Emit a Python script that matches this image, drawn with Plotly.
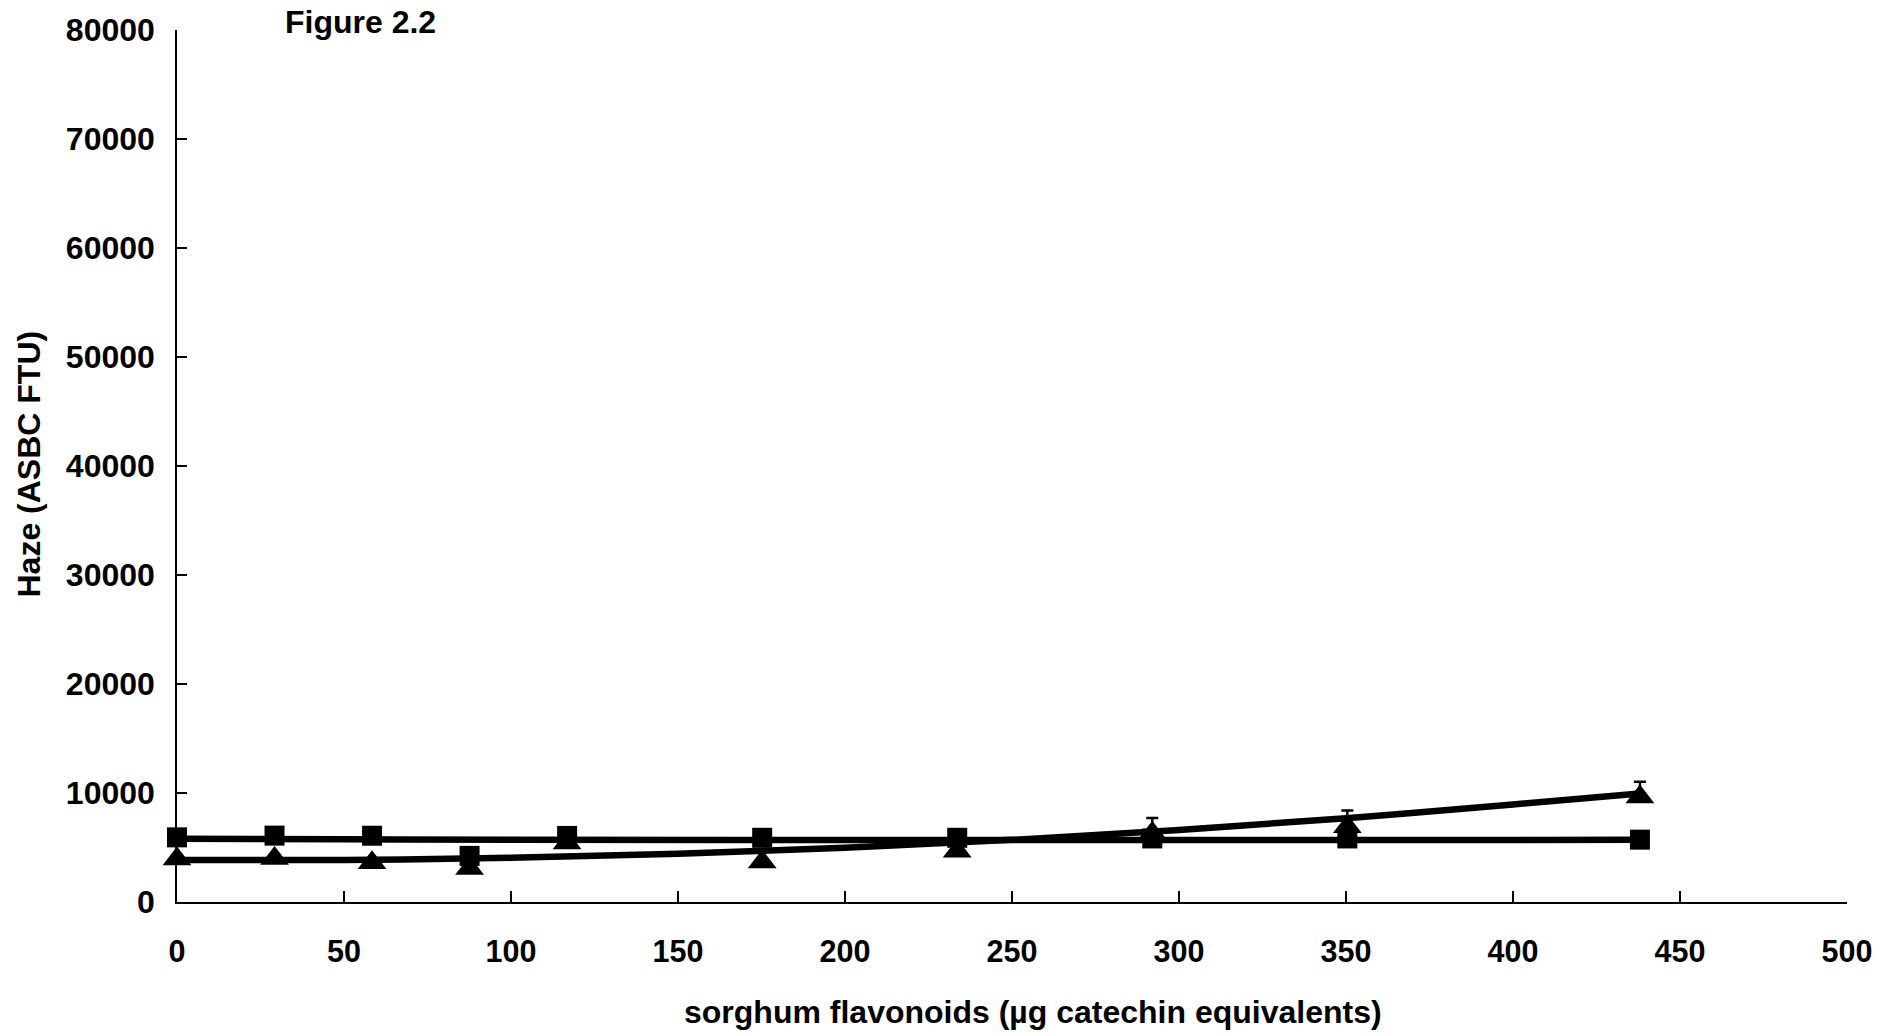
import plotly.graph_objects as go

# Sorghum flavonoids dose (µg catechin equivalents)
flavonoid_x = [0, 29.2, 58.4, 87.6, 116.8, 175.2, 233.6, 292, 350.4, 438]

# Haze values (ASBC FTU)
haze_square = [5930, 6090, 6080, 4230, 6060, 5890, 5890, 5830, 5830, 5720]
haze_triangle = [3940, 3990, 3590, 3080, 5420, 3680, 4660, 6300, 6900, 9630]
err_triangle = [0, 0, 0, 0, 0, 0, 0, 1400, 1500, 1400]

# Trend lines
trend_square_x = [0, 50, 100, 200, 300, 438]
trend_square_y = [5800, 5750, 5710, 5690, 5690, 5700]
trend_triangle_x = [0, 50, 100, 150, 200, 250, 300, 350, 400, 438]
trend_triangle_y = [3850, 3860, 4050, 4420, 4970, 5700, 6600, 7690, 8950, 9950]

x_ticks = [0, 50, 100, 150, 200, 250, 300, 350, 400, 450, 500]
y_ticks = [0, 10000, 20000, 30000, 40000, 50000, 60000, 70000, 80000]

FONT = "Liberation Sans, Arial, Helvetica, sans-serif"

fig = go.Figure()

fig.add_trace(go.Scatter(
    x=trend_triangle_x, y=trend_triangle_y, mode="lines",
    line=dict(color="black", width=6.5, shape="spline", smoothing=1.0),
    hoverinfo="skip", showlegend=False, cliponaxis=False))
fig.add_trace(go.Scatter(
    x=trend_square_x, y=trend_square_y, mode="lines",
    line=dict(color="black", width=6.5, shape="spline", smoothing=1.0),
    hoverinfo="skip", showlegend=False, cliponaxis=False))
fig.add_trace(go.Scatter(
    x=flavonoid_x, y=haze_triangle, mode="markers",
    marker=dict(symbol="triangle-up", size=25, color="black"),
    error_y=dict(type="data", symmetric=False, array=err_triangle,
                 arrayminus=[0] * len(err_triangle), visible=True,
                 color="black", thickness=2.5, width=6),
    showlegend=False, cliponaxis=False))
fig.add_trace(go.Scatter(
    x=flavonoid_x, y=haze_square, mode="markers",
    marker=dict(symbol="square", size=20, color="black"),
    showlegend=False, cliponaxis=False))

fig.update_layout(
    width=1898, height=1036,
    margin=dict(l=177, r=51, t=25, b=134),
    paper_bgcolor="white", plot_bgcolor="white",
    font=dict(family=FONT, color="black"),
    title=dict(text="<b>Figure 2.2</b>", x=285 / 1898, xanchor="left",
               y=1 - 22 / 1036, yanchor="middle", yref="container",
               font=dict(size=32, family=FONT, color="black")),
    xaxis=dict(range=[0, 500], tickvals=x_ticks,
               ticktext=[f"<b>{v}</b>" for v in x_ticks],
               ticks="inside", ticklen=11, tickwidth=1.5, tickcolor="black",
               showline=True, linecolor="black", linewidth=1.5,
               showgrid=False, zeroline=False,
               tickfont=dict(size=30.5, family=FONT, color="black"),
               ticklabelstandoff=22),
    yaxis=dict(range=[0, 80000], tickvals=y_ticks,
               ticktext=[f"<b>{v}</b>" for v in y_ticks],
               ticks="inside", ticklen=10, tickwidth=1.5, tickcolor="black",
               showline=True, linecolor="black", linewidth=1.5,
               showgrid=False, zeroline=False,
               tickfont=dict(size=32, family=FONT, color="black"),
               ticklabelstandoff=14),
    annotations=[
        dict(text="<b>sorghum flavonoids (µg catechin equivalents)</b>",
             xref="paper", yref="paper",
             x=(1033 - 177) / 1670, y=-(1013 - 902) / 877,
             xanchor="center", yanchor="middle", showarrow=False,
             font=dict(size=32, family=FONT, color="black")),
        dict(text="<b>Haze (ASBC FTU)</b>",
             xref="paper", yref="paper",
             x=-(177 - 29) / 1670, y=(902 - 462) / 877,
             xanchor="center", yanchor="middle", showarrow=False,
             textangle=-90,
             font=dict(size=32, family=FONT, color="black")),
    ],
)

fig.write_html("out.html")
